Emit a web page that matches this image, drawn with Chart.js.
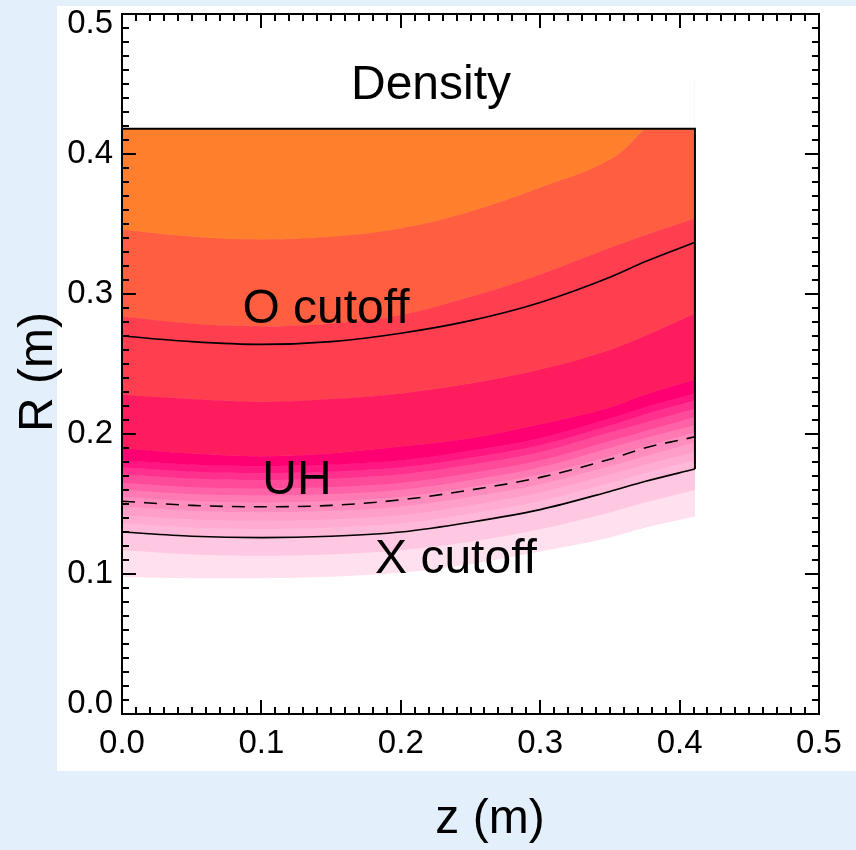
<!DOCTYPE html>
<html>
<head>
<meta charset="utf-8">
<script src="https://cdn.jsdelivr.net/npm/chart.js@4/dist/chart.umd.min.js"></script>
<style>
  html, body { margin: 0; padding: 0; background: #e3effb; }
  #wrap { position: relative; width: 856px; height: 850px; }
  #densityChart { display: block; }
  #frameLayer { position: absolute; left: 0; top: 0; pointer-events: none; }
</style>
</head>
<body>
<div id="wrap">
  <canvas id="densityChart" width="856" height="850"></canvas>
  <canvas id="frameLayer" width="856" height="850"></canvas>
</div>
<script>
// Density contours in the (z, R) plane, cutoff layers overlaid

/* ---------- Data ---------- */

// z positions (m) where each contour level was read
const zGrid = [0, 0.05, 0.1, 0.15, 0.2, 0.25, 0.3, 0.35, 0.375, 0.411];

// contour level boundaries, R (m), top to bottom (rL1 leaves the box near z=0.375)
const rTop = [0.418, 0.418, 0.418, 0.418, 0.418, 0.418, 0.418, 0.418, 0.418, 0.418];
const rL1  = [0.346, 0.341, 0.339, 0.341, 0.347, 0.359, 0.376, 0.396, 0.418, 0.452];
const rL2  = [0.284, 0.279, 0.277, 0.279, 0.285, 0.298, 0.314, 0.333, 0.342, 0.354];
const rL3  = [0.228, 0.225, 0.223, 0.225, 0.229, 0.236, 0.246, 0.260, 0.270, 0.286];
const rL4  = [0.190, 0.186, 0.184, 0.186, 0.191, 0.197, 0.207, 0.219, 0.228, 0.239];
const rP1  = [0.181, 0.178, 0.177, 0.178, 0.181, 0.188, 0.197, 0.211, 0.219, 0.229];
const rP2  = [0.176, 0.173, 0.172, 0.173, 0.176, 0.183, 0.192, 0.206, 0.214, 0.224];
const rP3  = [0.171, 0.168, 0.167, 0.168, 0.171, 0.178, 0.187, 0.201, 0.208, 0.218];
const rP4  = [0.165, 0.162, 0.161, 0.162, 0.165, 0.172, 0.181, 0.195, 0.202, 0.212];
const rP5  = [0.160, 0.157, 0.156, 0.157, 0.160, 0.167, 0.176, 0.190, 0.197, 0.206];
const rP6  = [0.155, 0.152, 0.151, 0.152, 0.155, 0.162, 0.171, 0.184, 0.191, 0.201];
const rP7  = [0.148, 0.145, 0.144, 0.145, 0.148, 0.155, 0.164, 0.177, 0.184, 0.194];
const rP8  = [0.142, 0.139, 0.138, 0.139, 0.142, 0.149, 0.158, 0.171, 0.178, 0.187];
const rP9  = [0.136, 0.133, 0.132, 0.133, 0.136, 0.143, 0.152, 0.165, 0.172, 0.181];
const rP10 = [0.130, 0.127, 0.126, 0.127, 0.130, 0.137, 0.146, 0.159, 0.166, 0.175];
const rP11 = [0.117, 0.114, 0.113, 0.114, 0.117, 0.123, 0.132, 0.144, 0.151, 0.160];
const rBot = [0.098, 0.097, 0.097, 0.098, 0.101, 0.107, 0.116, 0.126, 0.133, 0.141];

// cutoff curves, R (m)
const rOcut = [0.270, 0.266, 0.264, 0.266, 0.272, 0.281, 0.294, 0.312, 0.323, 0.337];
const rUH   = [0.152, 0.149, 0.148, 0.149, 0.153, 0.160, 0.169, 0.182, 0.190, 0.198];
const rXcut = [0.130, 0.127, 0.126, 0.127, 0.130, 0.137, 0.146, 0.159, 0.166, 0.175];

// outline of the computed domain
const boxZ = [0, 0.411, 0.411];
const boxR = [0.418, 0.418, 0.175];

// axis ticks
const majorTicks = [0, 0.1, 0.2, 0.3, 0.4, 0.5];
const minorTicks = [
  0, 0.01, 0.02, 0.03, 0.04, 0.05, 0.06, 0.07, 0.08, 0.09,
  0.1, 0.11, 0.12, 0.13, 0.14, 0.15, 0.16, 0.17, 0.18, 0.19,
  0.2, 0.21, 0.22, 0.23, 0.24, 0.25, 0.26, 0.27, 0.28, 0.29,
  0.3, 0.31, 0.32, 0.33, 0.34, 0.35, 0.36, 0.37, 0.38, 0.39,
  0.4, 0.41, 0.42, 0.43, 0.44, 0.45, 0.46, 0.47, 0.48, 0.49, 0.5
];

const levels = [rTop, rL1, rL2, rL3, rL4, rP1, rP2, rP3, rP4, rP5, rP6, rP7, rP8, rP9, rP10, rP11, rBot];
const bandColors = [
  "#ff7f2c", "#ff5e40", "#ff3e50", "#ff1c5e", "#ff0073",
  "#ff1680", "#ff308e", "#ff4a9a", "#ff62a6", "#ff7ab2",
  "#ff8ebe", "#ff9ec8", "#ffacd0", "#ffb8d8", "#ffc8e2", "#ffe0ee"
];

const FONT = '"Liberation Sans", Arial, sans-serif';

function toPoints(zs, rs) {
  return zs.map((z, i) => ({ x: z, y: rs[i] }));
}

/* ---------- Datasets ---------- */

const datasets = [];

// white mask above the domain top (hides the part of rL1 outside the box)
datasets.push({
  data: toPoints([boxZ[0], boxZ[1]], [boxR[0], boxR[1]]),
  showLine: true,
  borderWidth: 0,
  backgroundColor: "#ffffff",
  pointRadius: 0,
  fill: "end",
  order: 1
});

const bandStart = datasets.length;
levels.forEach((rs, i) => {
  const color = bandColors[i] || "rgba(0,0,0,0)";
  const hasBand = i < bandColors.length;
  const ds = {
    data: toPoints(zGrid, rs),
    showLine: true,
    cubicInterpolationMode: "monotone",
    borderColor: color,
    borderWidth: hasBand ? 1 : 0,
    backgroundColor: color,
    pointRadius: 0,
    fill: hasBand ? bandStart + i + 1 : false,
    order: 2
  };
  // the first boundary runs out through the top, keep it smooth there
  if (rs === rL1) {
    ds.cubicInterpolationMode = "default";
    ds.tension = 0.4;
  }
  datasets.push(ds);
});

function curve(rs, dash, width) {
  return {
    data: toPoints(zGrid, rs),
    showLine: true,
    cubicInterpolationMode: "monotone",
    borderColor: "#000000",
    borderWidth: width,
    borderDash: dash,
    pointRadius: 0,
    fill: false,
    order: 0
  };
}

datasets.push(curve(rOcut, [], 1.6));
datasets.push(curve(rUH, [13, 9], 1.6));
datasets.push(curve(rXcut, [], 1.6));
datasets.push({
  data: toPoints(boxZ, boxR),
  showLine: true,
  tension: 0,
  borderColor: "#000000",
  borderWidth: 2,
  pointRadius: 0,
  fill: false,
  order: 0
});

/* ---------- Axes ---------- */

function axis(position, size) {
  return {
    type: "linear",
    position,
    min: 0,
    max: 0.5,
    afterFit: (scale) => {
      if (scale.isHorizontal()) scale.height = size;
      else scale.width = size;
      scale.paddingTop = 0;
      scale.paddingBottom = 0;
      scale.paddingLeft = 0;
      scale.paddingRight = 0;
    },
    afterBuildTicks: (scale) => {
      scale.ticks = majorTicks.map((v) => ({ value: v }));
    },
    grid: { display: false, drawTicks: false },
    border: { display: false },
    ticks: {
      display: size > 0,
      autoSkip: false,
      maxRotation: 0,
      color: "#000000",
      font: { family: FONT, size: 33, lineHeight: position === "left" ? "20px" : 1.2 },
      padding: position === "left" ? 9 : 10,
      callback: (v) => {
        const label = Number(v).toFixed(1);
        if (position === "left" && Math.abs(v - 0.5) < 1e-9) return ["", label];
        if (position === "left" && Math.abs(v) < 1e-9) return [label, ""];
        return label;
      }
    }
  };
}

/* ---------- Plugins: page panel, text, frame + inward ticks ---------- */

const panelPlugin = {
  id: "panel",
  beforeDraw(chart) {
    const ctx = chart.ctx;
    ctx.save();
    ctx.fillStyle = "#e3effb";
    ctx.fillRect(0, 0, chart.width, chart.height);
    ctx.fillStyle = "#ffffff";
    ctx.fillRect(57, 6, chart.width - 57, 765);
    ctx.restore();
  }
};

const textPlugin = {
  id: "labels",
  afterDraw(chart) {
    const ctx = chart.ctx;
    ctx.save();
    ctx.fillStyle = "#000000";
    ctx.font = `48px ${FONT}`;
    ctx.textAlign = "center";
    ctx.textBaseline = "alphabetic";
    ctx.fillText("Density", 431, 99);
    ctx.fillText("O cutoff", 326, 323);
    ctx.fillText("UH", 297, 494);
    ctx.fillText("X cutoff", 456, 573);
    ctx.fillText("z (m)", 490, 833);

    ctx.translate(52, 372);
    ctx.rotate(-Math.PI / 2);
    ctx.fillText("R (m)", 0, 0);
    ctx.restore();
  }
};

// IDL-style frame: minor + major ticks on all four sides, pointing inward
function drawFrame(ctx, chart) {
  const { left, right, top, bottom } = chart.chartArea;
  const xs = chart.scales.x;
  const ys = chart.scales.y;
  ctx.save();
  ctx.strokeStyle = "#000000";
  ctx.lineWidth = 2;
  ctx.setLineDash([]);
  const tick = (values, len) => {
    values.forEach((v) => {
      const px = Math.round(xs.getPixelForValue(v));
      const py = Math.round(ys.getPixelForValue(v));
      ctx.beginPath();
      ctx.moveTo(px, bottom); ctx.lineTo(px, bottom - len);
      ctx.moveTo(px, top); ctx.lineTo(px, top + len);
      ctx.moveTo(left, py); ctx.lineTo(left + len, py);
      ctx.moveTo(right, py); ctx.lineTo(right - len, py);
      ctx.stroke();
    });
  };
  tick(minorTicks, 7);
  tick(majorTicks, 14);
  ctx.strokeRect(left, top, right - left, bottom - top);
  ctx.restore();
}

const framePlugin = {
  id: "frame",
  afterDraw(chart) {
    drawFrame(chart.ctx, chart);
  },
  afterRender(chart) {
    // second pass on a transparent layer so nothing can end up above the ticks
    const layer = document.getElementById("frameLayer");
    if (!layer) return;
    const lctx = layer.getContext("2d");
    lctx.clearRect(0, 0, layer.width, layer.height);
    drawFrame(lctx, chart);
  }
};

/* ---------- Chart ---------- */

new Chart(document.getElementById("densityChart").getContext("2d"), {
  type: "scatter",
  data: { datasets },
  options: {
    responsive: false,
    animation: false,
    devicePixelRatio: 1,
    layout: { padding: { left: 0, top: 14, right: 37, bottom: 0 } },
    plugins: {
      legend: { display: false },
      tooltip: { enabled: false },
      filler: { propagate: false }
    },
    scales: {
      x: axis("bottom", 136),
      y: axis("left", 122)
    }
  },
  plugins: [panelPlugin, textPlugin, framePlugin]
});
</script>
</body>
</html>
